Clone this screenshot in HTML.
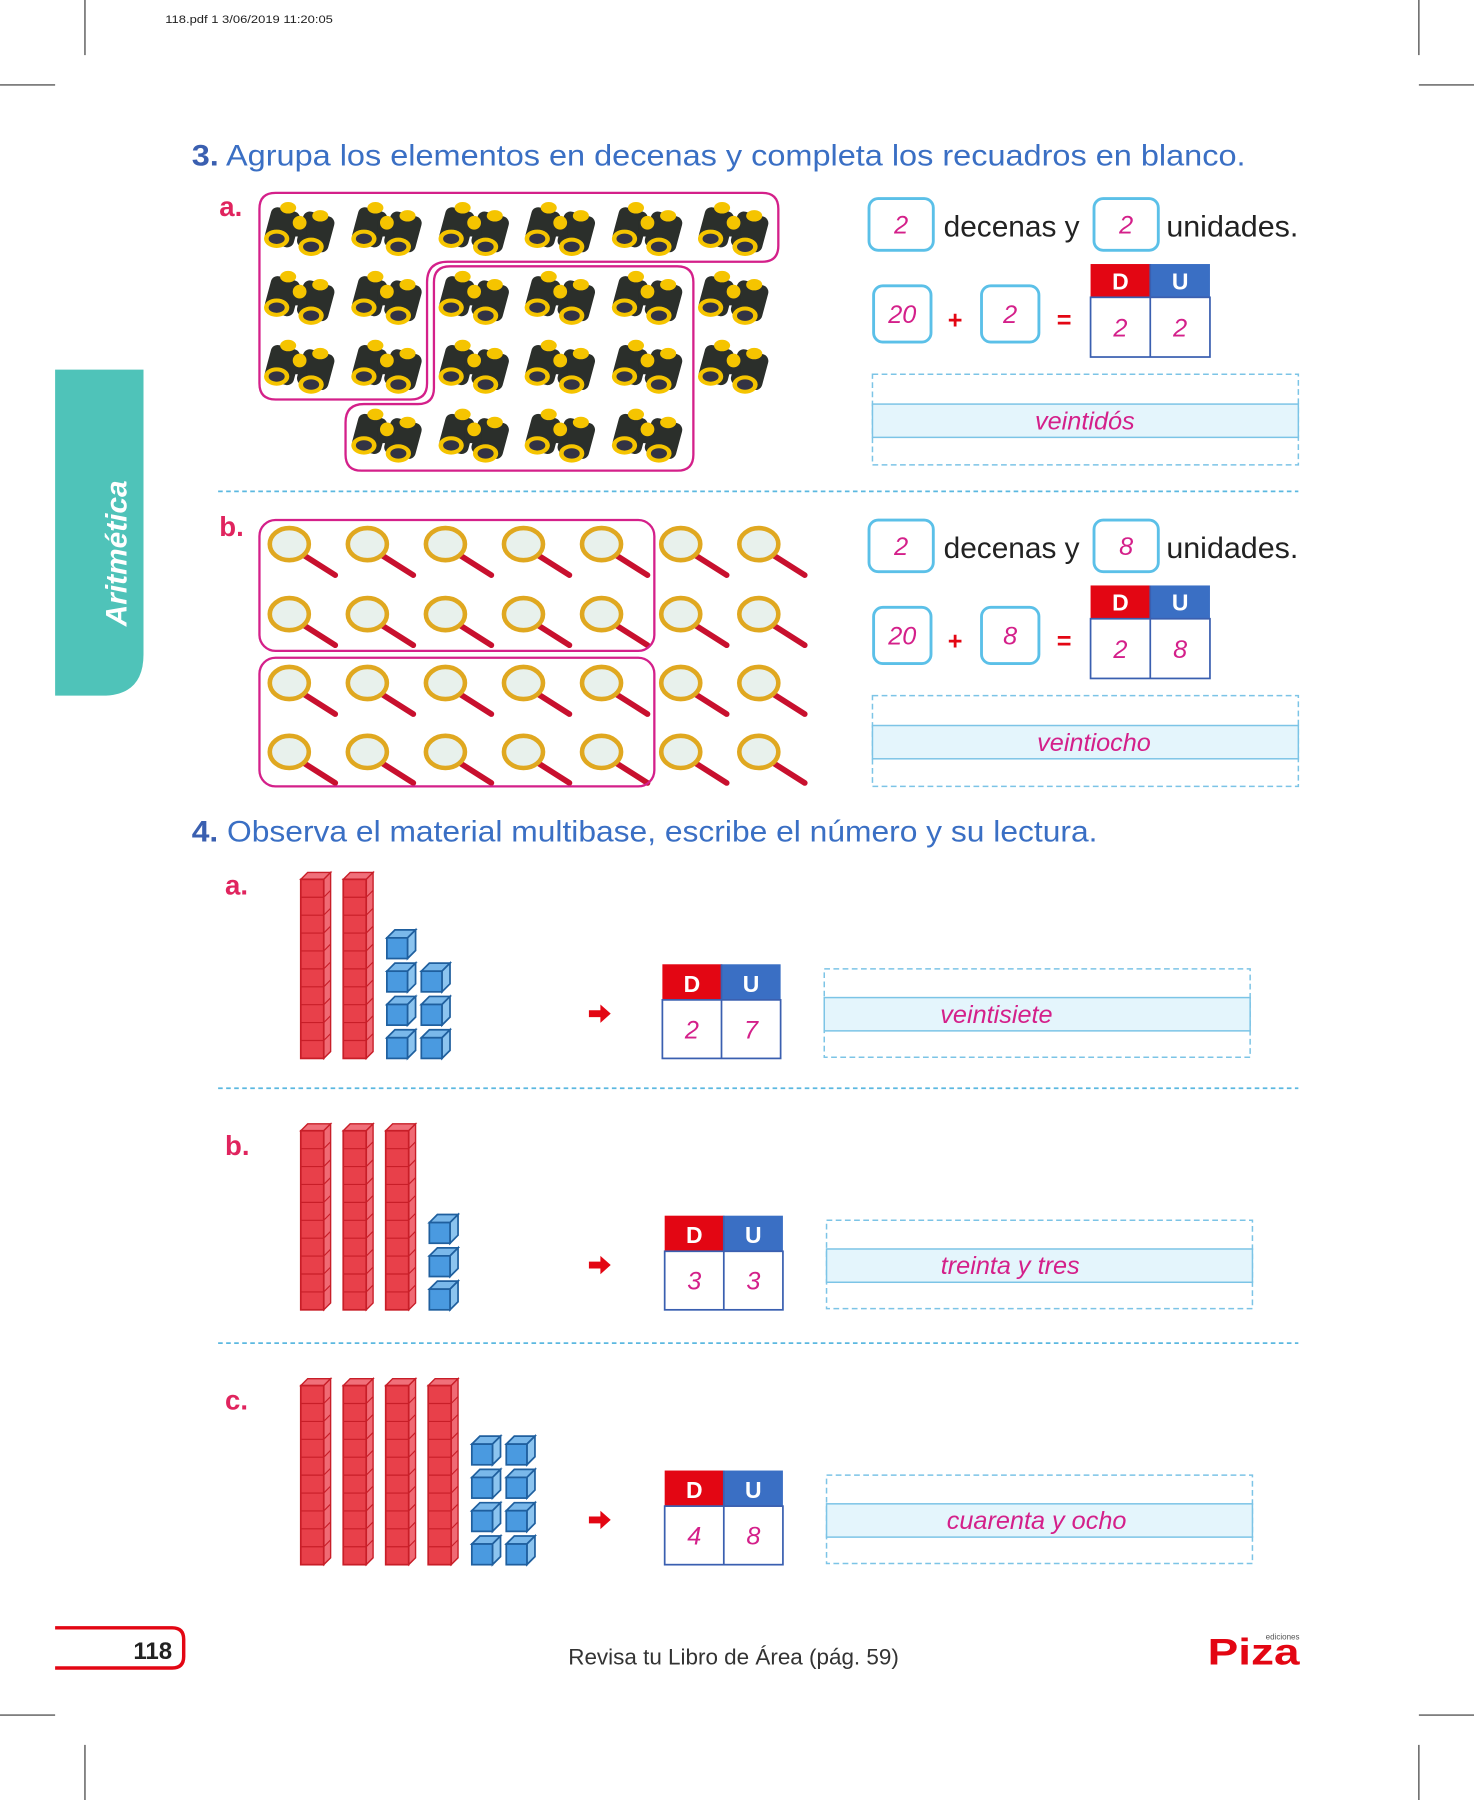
<!DOCTYPE html>
<html><head><meta charset="utf-8"><style>
html,body{margin:0;padding:0;background:#fff}
svg{display:block}
text{font-family:"Liberation Sans","DejaVu Sans",sans-serif}
</style></head><body>
<svg id="pg" width="1474" height="1800" viewBox="0 0 1284 1568" xmlns="http://www.w3.org/2000/svg">
<g stroke="#333" stroke-width="1">
<line x1="74" y1="0" x2="74" y2="48"/><line x1="1236" y1="0" x2="1236" y2="48"/>
<line x1="0" y1="74" x2="48" y2="74"/><line x1="1236" y1="74" x2="1284" y2="74"/>
<line x1="0" y1="1494" x2="48" y2="1494"/><line x1="1236" y1="1494" x2="1284" y2="1494"/>
<line x1="74" y1="1520" x2="74" y2="1568"/><line x1="1236" y1="1520" x2="1236" y2="1568"/>
</g>
<text x="144" y="20" font-size="10" fill="#222" textLength="146" lengthAdjust="spacingAndGlyphs">118.pdf  1  3/06/2019  11:20:05</text>
<path d="M48 322 H125 V570 Q125 606 89 606 H48 Z" fill="#4fc3b9"/>
<text transform="translate(110,482) rotate(-90)" text-anchor="middle" font-size="26" font-weight="bold" font-style="italic" fill="#fff">Aritmética</text>

<text x="167" y="144" font-size="26" fill="#3a6fc4" textLength="918" lengthAdjust="spacingAndGlyphs"><tspan font-weight="bold" fill="#3a5fb0">3.</tspan> Agrupa los elementos en decenas y completa los recuadros en blanco.</text>
<text x="191" y="188" font-size="24" font-weight="bold" fill="#e0245e">a.</text>
<text x="191" y="467" font-size="24" font-weight="bold" fill="#e0245e">b.</text>
<g id="bino"></g>
<path d="M240 168 H664 Q678 168 678 182 V214 Q678 228 664 228 H390 Q372 228 372 246 V334 Q372 348 358 348 H240 Q226 348 226 334 V182 Q226 168 240 168 Z" fill="none" stroke="#d4208a" stroke-width="2"/>
<path d="M392 232 H590 Q604 232 604 246 V396 Q604 410 590 410 H315 Q301 410 301 396 V368 Q301 352 317 352 H364 Q378 352 378 338 V246 Q378 232 392 232 Z" fill="none" stroke="#d4208a" stroke-width="2"/>
<g id="mag"></g>
<rect x="226" y="453" width="344" height="114" rx="14" fill="none" stroke="#d4208a" stroke-width="2"/>
<rect x="226" y="573" width="344" height="112" rx="14" fill="none" stroke="#d4208a" stroke-width="2"/>
<g id="right3"></g>
<line x1="190" y1="428" x2="1131" y2="428" stroke="#5bb8e0" stroke-width="1.5" stroke-dasharray="4 3"/>

<text x="167" y="733" font-size="26" fill="#3a6fc4" textLength="789" lengthAdjust="spacingAndGlyphs"><tspan font-weight="bold" fill="#3a5fb0">4.</tspan> Observa el material multibase, escribe el número y su lectura.</text>
<g id="ex4"></g>
<line x1="190" y1="948" x2="1131" y2="948" stroke="#5bb8e0" stroke-width="1.5" stroke-dasharray="4 3"/>
<line x1="190" y1="1170" x2="1131" y2="1170" stroke="#5bb8e0" stroke-width="1.5" stroke-dasharray="4 3"/>

<path d="M48 1418 H150 Q160 1418 160 1428 V1443 Q160 1453 150 1453 H48" fill="none" stroke="#e30613" stroke-width="3"/>
<text x="150" y="1445" text-anchor="end" font-size="21" font-weight="bold" fill="#222">118</text>
<text x="495" y="1450" font-size="19" fill="#333" textLength="288" lengthAdjust="spacingAndGlyphs">Revisa tu Libro de Área (pág. 59)</text>
<text x="1132" y="1428" text-anchor="end" font-size="7" fill="#555">ediciones</text>
<text x="1052" y="1450" font-size="32" font-weight="bold" fill="#e30613" textLength="80" lengthAdjust="spacingAndGlyphs">Piza</text>
</svg>
<script>
const NS='http://www.w3.org/2000/svg';
function mk(p,t,a){const e=document.createElementNS(NS,t);for(const k in a)e.setAttribute(k,a[k]);p.appendChild(e);return e;}
const binoCols=[263,339,415,490,566,641];
const binoRows=[198,258,318,378];
const binoCounts=[6,6,6,4];
const binoStart=[0,0,0,1];
const magCols=[252,320,388,456,524,593,661];
const magRows=[474,535,595,655];
const tens3=[2,2];
const units3=[2,8];
const words3=['veintidós','veintiocho'];
const tens4=[2,3,4];
const units4=[7,3,8];
const words4=['veintisiete','treinta y tres','cuarenta y ocho'];
const labels4=['a.','b.','c.'];
const rowTop4=[760,979,1201];

const gb=document.getElementById('bino');
binoRows.forEach((y,r)=>{for(let i=0;i<binoCounts[r];i++){const x=binoCols[binoStart[r]+i];
const g=mk(gb,'g',{});


mk(g,'rect',{x:x-30,y:y-16,width:26,height:32,rx:6,fill:'#2b2f2b',transform:`rotate(15 ${x-17} ${y})`});
mk(g,'rect',{x:x-2,y:y-12,width:28,height:32,rx:6,fill:'#2b2f2b',transform:`rotate(15 ${x+12} ${y+4})`});
mk(g,'rect',{x:x-10,y:y-6,width:14,height:14,fill:'#2b2f2b'});
mk(g,'ellipse',{cx:x-22,cy:y+10,rx:11,ry:8,fill:'#f5c400'});
mk(g,'ellipse',{cx:x-22,cy:y+10,rx:7,ry:4.5,fill:'#334'});
mk(g,'ellipse',{cx:x+8,cy:y+17,rx:11,ry:8,fill:'#f5c400'});
mk(g,'ellipse',{cx:x+8,cy:y+17,rx:7,ry:4.5,fill:'#334'});
mk(g,'ellipse',{cx:x-12,cy:y-17,rx:7,ry:5,fill:'#f5c400'});
mk(g,'ellipse',{cx:x+16,cy:y-10,rx:7,ry:5,fill:'#f5c400'});
mk(g,'circle',{cx:x-2,cy:y-4,r:6,fill:'#f5c400'});
}});
const gm=document.getElementById('mag');
magRows.forEach(y=>magCols.forEach(x=>{const g=mk(gm,'g',{});


mk(g,'line',{x1:x+10,y1:y+8,x2:x+40,y2:y+27,stroke:'#c8102e','stroke-width':5,'stroke-linecap':'round'});
mk(g,'ellipse',{cx:x,cy:y,rx:17,ry:14,fill:'#e8f1ec',stroke:'#e0a820','stroke-width':4});
}));

const gr=document.getElementById('right3');
function duTable(p,x,y,hh,bh,w,d,u){
const t=mk(p,'g',{});


mk(t,'rect',{x:x,y:y,width:w/2,height:hh,fill:'#e30613'});
mk(t,'rect',{x:x+w/2,y:y,width:w/2,height:hh,fill:'#3a6fc4'});
mk(t,'rect',{x:x,y:y+hh,width:w,height:bh,fill:'#fff',stroke:'#3a5fb0','stroke-width':1.5});
mk(t,'line',{x1:x+w/2,y1:y,x2:x+w/2,y2:y+hh+bh,stroke:'#3a5fb0','stroke-width':1.5});
const a=mk(t,'text',{x:x+w/4,y:y+hh-7,'text-anchor':'middle','font-size':20,'font-weight':'bold',fill:'#fff'});a.textContent='D';
const b=mk(t,'text',{x:x+3*w/4,y:y+hh-7,'text-anchor':'middle','font-size':20,'font-weight':'bold',fill:'#fff'});b.textContent='U';
const c=mk(t,'text',{x:x+w/4,y:y+hh+bh/2+8,'text-anchor':'middle','font-size':22,'font-style':'italic',fill:'#d4208a'});c.textContent=d;
const e=mk(t,'text',{x:x+3*w/4,y:y+hh+bh/2+8,'text-anchor':'middle','font-size':22,'font-style':'italic',fill:'#d4208a'});e.textContent=u;
}
function box(p,x,y,w,h,v,name){const b=mk(p,'rect',{x:x,y:y,width:w,height:h,rx:8,fill:'#fff',stroke:'#5bc0e8','stroke-width':2.5});


const t=mk(p,'text',{x:x+w/2,y:y+h/2+8,'text-anchor':'middle','font-size':22,'font-style':'italic',fill:'#d4208a'});t.textContent=v;}
function wordBox(p,x,y,w,h,by,word,cx){
mk(p,'rect',{x:x,y:y,width:w,height:h,fill:'none',stroke:'#7cc4e6','stroke-width':1.3,'stroke-dasharray':'5 3'});
const b=mk(p,'rect',{x:x,y:by,width:w,height:29,fill:'#e4f5fc',stroke:'#7cc4e6','stroke-width':1.3});


const t=mk(p,'text',{x:cx,y:by+22,'text-anchor':'middle','font-size':22,'font-style':'italic',fill:'#d4208a'});t.textContent=word;}
tens3.forEach((tn,i)=>{const o=i*280;
box(gr,757,173+o,56,45,tn,'tens-answer-box');
const t1=mk(gr,'text',{x:822,y:206+o,'font-size':26,fill:'#222'});t1.textContent='decenas y';
box(gr,953,173+o,56,45,units3[i],'units-answer-box');
const t2=mk(gr,'text',{x:1016,y:206+o,'font-size':26,fill:'#222',textLength:115,lengthAdjust:'spacingAndGlyphs'});t2.textContent='unidades.';
box(gr,761,249+o,50,49,tn*10,'tens-value-box');
const pl=mk(gr,'text',{x:832,y:286+o,'text-anchor':'middle','font-size':22,'font-weight':'bold',fill:'#e30613'});pl.textContent='+';
box(gr,855,249+o,50,49,units3[i],'units-value-box');
const eq=mk(gr,'text',{x:927,y:286+o,'text-anchor':'middle','font-size':22,'font-weight':'bold',fill:'#e30613'});eq.textContent='=';
duTable(gr,950,230+o,29,52,104,tn,units3[i]);
wordBox(gr,760,326+o,371,79,352+o,words3[i],[945,953][i]);
});

const g4=document.getElementById('ex4');
function rod(p,x,y){const g=mk(p,'g',{});


const h=162,w=20,d=6;
mk(g,'path',{d:`M${x} ${y+d} L${x+d} ${y} H${x+w+d} L${x+w} ${y+d} Z`,fill:'#f0707a',stroke:'#c81e28','stroke-width':1.2});
mk(g,'path',{d:`M${x+w} ${y+d} L${x+w+d} ${y} V${y+h-d} L${x+w} ${y+h} Z`,fill:'#f06a74',stroke:'#c81e28','stroke-width':1.2});
mk(g,'rect',{x:x,y:y+d,width:w,height:h-d,fill:'#e8404a',stroke:'#c81e28','stroke-width':1.5});
for(let k=1;k<10;k++){const yy=y+d+k*(h-d)/10;mk(g,'line',{x1:x,y1:yy,x2:x+w,y2:yy,stroke:'#c81e28','stroke-width':1});mk(g,'line',{x1:x+w,y1:yy,x2:x+w+d,y2:yy-d,stroke:'#c81e28','stroke-width':1});}
}
function cube(p,x,y){const g=mk(p,'g',{});


const s=18,d=7;
mk(g,'path',{d:`M${x} ${y+d} L${x+d} ${y} H${x+s+d} L${x+s} ${y+d} Z`,fill:'#7ab8ea',stroke:'#1f5f9e','stroke-width':1.5});
mk(g,'path',{d:`M${x+s} ${y+d} L${x+s+d} ${y} V${y+s} L${x+s} ${y+s+d} Z`,fill:'#8cc4ef',stroke:'#1f5f9e','stroke-width':1.5});
mk(g,'rect',{x:x,y:y+d,width:s,height:s,fill:'#4a9ae0',stroke:'#1f5f9e','stroke-width':1.5});}
tens4.forEach((tn,i)=>{const top=rowTop4[i];const bot=top+162;
const lb=mk(g4,'text',{x:196,y:top+19+(i?8:0),'font-size':24,'font-weight':'bold',fill:'#e0245e'});lb.textContent=labels4[i];
for(let k=0;k<tn;k++)rod(g4,262+k*37,top);
const u=units4[i];const cx=262+tn*37+1;
const cols=u>3?2:1;
let placed=0;
for(let r=0;placed<u;r++){for(let c=0;c<cols&&placed<u;c++){cube(g4,cx+c*30,bot-25-r*29);placed++;}}
const ay=top+123;
const ar=mk(g4,'path',{d:`M513 ${ay-3} H523 V${ay-8} L532 ${ay} L523 ${ay+8} V${ay+3} H513 Z`,fill:'#e30613'});


const tx=i?579:577;
duTable(g4,tx,bot-82,31,51,103,tn,u);
const bx=i?720:718;
wordBox(g4,bx,bot-78,371,77,bot-53,words4[i],[868,880,903][i]);
});
</script>
</body></html>
